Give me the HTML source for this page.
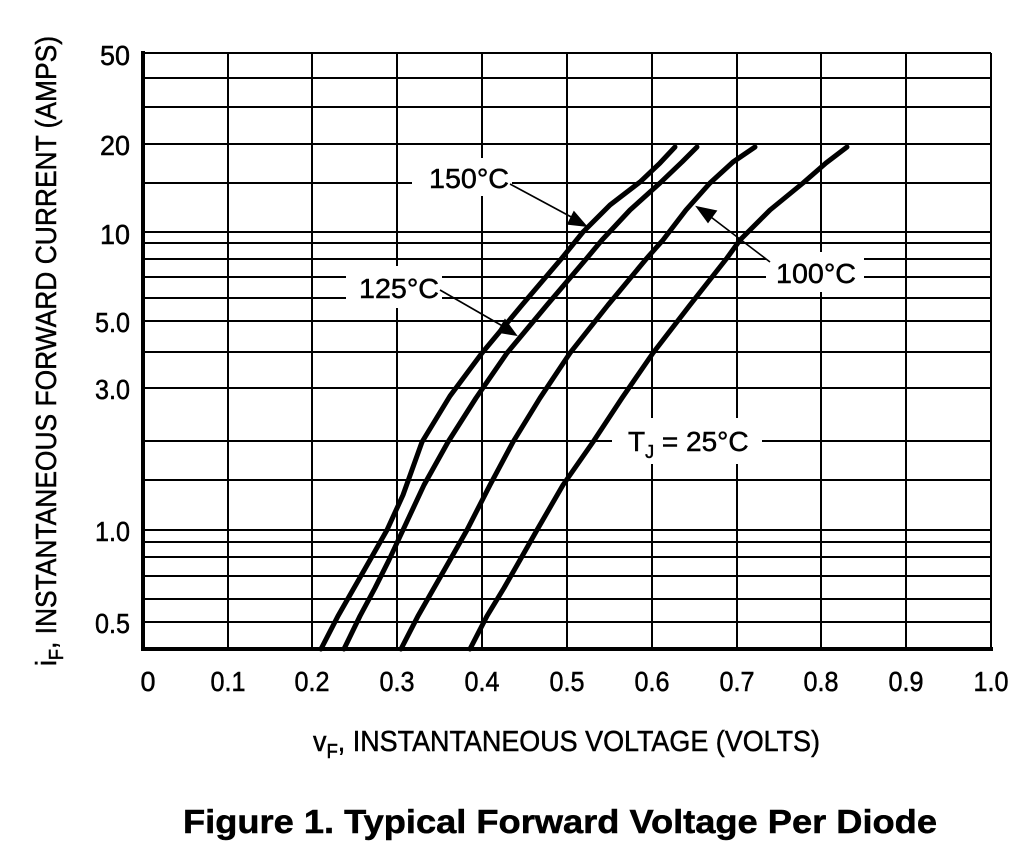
<!DOCTYPE html>
<html><head><style>
html,body{margin:0;padding:0;background:#fff;}
svg{display:block;}
text{font-family:"Liberation Sans",Arial,sans-serif;fill:#000;stroke:#000;stroke-width:0.5;}
</style></head><body>
<svg width="1024" height="866" viewBox="0 0 1024 866" xmlns="http://www.w3.org/2000/svg">
<g stroke="#000" stroke-width="2" fill="none">
<path d="M143 53H991M143 78H991M143 107H991M143 144H991M143 183H991M143 232H991M143 243H991M143 259H991M143 277H991M143 298H991M143 321H991M143 352H991M143 388H991M143 441H991M143 480H991M143 530H991M143 542H991M143 557H991M143 576H991M143 599H991M143 622H991"/>
<path d="M228 53V649M312 53V649M397 53V649M482 53V649M567 53V649M652 53V649M737 53V649M821 53V649M906 53V649M991 53V649"/>
</g>
<path d="M143 51V651M141 649H993" stroke="#000" stroke-width="4" fill="none"/>
<rect x="412" y="158" width="100" height="38" fill="#fff"/>
<rect x="346" y="266" width="96" height="42" fill="#fff"/>
<rect x="766" y="252" width="98" height="40" fill="#fff"/>
<rect x="612" y="418" width="150" height="46" fill="#fff"/>
<g stroke="#000" stroke-width="5" fill="none" stroke-linecap="round" stroke-linejoin="round">
<polyline points="321,649 338,616 354,588 370,560 387,530 403,495 422,442 450,396 482,353 522,305 562,258 583,232 610,205 640,182 660,163 675,147"/>
<polyline points="344,649 360,616 375,588 389,560 403,530 424,485 448,442 476,398 507,353 547,305 587,258 602,240 630,210 660,183 682,162 697,147"/>
<polyline points="401,649 418,616 434,588 450,560 467,530 490,485 513,442 540,398 570,353 608,305 647,258 663,240 686,210 710,183 733,162 755,147"/>
<polyline points="470,649 487,616 504,588 520,560 537,530 563,485 593,442 622,398 653,353 690,305 727,258 740,240 770,210 803,183 826,163 847,147"/>
</g>
<g stroke="#000" stroke-width="1.6" fill="#000">
<line x1="510" y1="184" x2="575" y2="219"/>
<polygon points="586,226 568,224 574,212"/>
<line x1="440" y1="290" x2="506" y2="328"/>
<polygon points="516,335 498,332 505,320"/>
<line x1="770" y1="262" x2="707" y2="214"/>
<polygon points="697,207 716,211 708,222"/>
</g>
<g font-size="28">
<text x="429" y="188" textLength="80" lengthAdjust="spacingAndGlyphs">150°C</text>
<text x="359" y="298" textLength="80" lengthAdjust="spacingAndGlyphs">125°C</text>
<text x="776" y="283" textLength="80" lengthAdjust="spacingAndGlyphs">100°C</text>
<text x="628" y="451">T<tspan font-size="18" dy="7">J</tspan><tspan dy="-7" font-size="28"> = 25°C</tspan></text>
</g>
<g font-size="28" text-anchor="end">
<text x="130" y="65" textLength="30" lengthAdjust="spacingAndGlyphs">50</text>
<text x="130" y="155" textLength="30" lengthAdjust="spacingAndGlyphs">20</text>
<text x="130" y="244" textLength="30" lengthAdjust="spacingAndGlyphs">10</text>
<text x="130" y="332" textLength="35" lengthAdjust="spacingAndGlyphs">5.0</text>
<text x="130" y="399" textLength="35" lengthAdjust="spacingAndGlyphs">3.0</text>
<text x="130" y="541" textLength="35" lengthAdjust="spacingAndGlyphs">1.0</text>
<text x="130" y="633" textLength="35" lengthAdjust="spacingAndGlyphs">0.5</text>
</g>
<g font-size="28" text-anchor="middle">
<text x="148" y="691" textLength="15" lengthAdjust="spacingAndGlyphs">0</text>
<text x="228" y="691" textLength="35" lengthAdjust="spacingAndGlyphs">0.1</text>
<text x="312" y="691" textLength="35" lengthAdjust="spacingAndGlyphs">0.2</text>
<text x="397" y="691" textLength="35" lengthAdjust="spacingAndGlyphs">0.3</text>
<text x="482" y="691" textLength="35" lengthAdjust="spacingAndGlyphs">0.4</text>
<text x="567" y="691" textLength="35" lengthAdjust="spacingAndGlyphs">0.5</text>
<text x="652" y="691" textLength="35" lengthAdjust="spacingAndGlyphs">0.6</text>
<text x="737" y="691" textLength="35" lengthAdjust="spacingAndGlyphs">0.7</text>
<text x="821" y="691" textLength="35" lengthAdjust="spacingAndGlyphs">0.8</text>
<text x="906" y="691" textLength="35" lengthAdjust="spacingAndGlyphs">0.9</text>
<text x="991" y="691" textLength="35" lengthAdjust="spacingAndGlyphs">1.0</text>
</g>
<text x="313" y="751" font-size="29" textLength="507" lengthAdjust="spacingAndGlyphs">v<tspan font-size="20" dy="7">F</tspan><tspan dy="-7" font-size="29">, INSTANTANEOUS VOLTAGE (VOLTS)</tspan></text>
<text transform="translate(56,666) rotate(-90)" font-size="29" textLength="630" lengthAdjust="spacingAndGlyphs">i<tspan font-size="20" dy="7">F</tspan><tspan dy="-7" font-size="29">, INSTANTANEOUS FORWARD CURRENT (AMPS)</tspan></text>
<text x="183" y="833" font-size="33" font-weight="bold" textLength="754" lengthAdjust="spacingAndGlyphs">Figure 1. Typical Forward Voltage Per Diode</text>
</svg>
</body></html>
